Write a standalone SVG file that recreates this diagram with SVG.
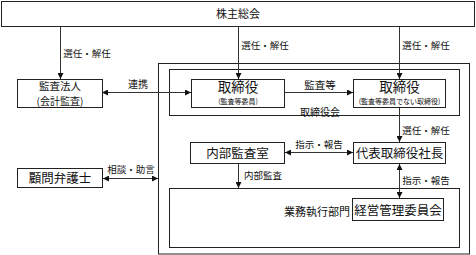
<svg xmlns="http://www.w3.org/2000/svg" width="476" height="255" viewBox="0 0 476 255">
<defs>
<marker id="ah" viewBox="0 0 6 6" refX="6" refY="3" markerWidth="6" markerHeight="6" markerUnits="userSpaceOnUse" orient="auto-start-reverse">
<path d="M0,0 L6,3 L0,6 Z" fill="#111"/>
</marker>
</defs>
<style>
text{font-family:"Noto Sans CJK JP","Noto Sans CJK SC",sans-serif;fill:#111;text-anchor:middle}
.box{fill:#fff;stroke:#222;stroke-width:1}
.frame{fill:none;stroke:#222;stroke-width:1}
.c{fill:none;stroke:#333;stroke-width:1}
.lbl{font-size:9.5px}
</style>
<rect width="476" height="255" fill="#fff"/>
<g id="frames">
<rect class="frame" x="158.5" y="63.5" width="311" height="190.5"/>
<rect class="frame" x="169.5" y="69.5" width="290" height="46"/>
<rect class="frame" x="169.5" y="188.5" width="290" height="59"/>
</g>
<g id="connectors">
<line class="c" x1="60.5" y1="26" x2="60.5" y2="79" marker-end="url(#ah)"/>
<line class="c" x1="238.5" y1="26" x2="238.5" y2="79" marker-end="url(#ah)"/>
<line class="c" x1="399.5" y1="26" x2="399.5" y2="79" marker-end="url(#ah)"/>
<line class="c" x1="102" y1="92.5" x2="191" y2="92.5" marker-start="url(#ah)" marker-end="url(#ah)"/>
<line class="c" x1="285" y1="92.5" x2="353" y2="92.5" marker-end="url(#ah)"/>
<line class="c" x1="399.5" y1="108" x2="399.5" y2="142" marker-end="url(#ah)"/>
<line class="c" x1="285" y1="152.5" x2="353" y2="152.5" marker-start="url(#ah)" marker-end="url(#ah)"/>
<line class="c" x1="103" y1="178.5" x2="158" y2="178.5" marker-start="url(#ah)" marker-end="url(#ah)"/>
<line class="c" x1="238.5" y1="163" x2="238.5" y2="188" marker-end="url(#ah)"/>
<line class="c" x1="399.5" y1="164" x2="399.5" y2="198" marker-start="url(#ah)" marker-end="url(#ah)"/>
<text class="lbl" x="87" y="57">選任・解任</text>
<text class="lbl" x="265" y="49">選任・解任</text>
<text class="lbl" x="426" y="49">選任・解任</text>
<text class="lbl" x="138" y="88" style="font-size:10px">連携</text>
<text class="lbl" x="320" y="89" style="font-size:10.5px">監査等</text>
<text class="lbl" x="320" y="116" style="font-size:10px">取締役会</text>
<text class="lbl" x="426" y="134">選任・解任</text>
<text class="lbl" x="319" y="148">指示・報告</text>
<text class="lbl" x="131" y="173">相談・助言</text>
<text class="lbl" x="263" y="179">内部監査</text>
<text class="lbl" x="426" y="184">指示・報告</text>
<text x="350" y="216" style="font-size:11px;text-anchor:end">業務執行部門</text>
</g>
<g id="shareholders">
<rect class="box" x="1.5" y="1.5" width="473" height="25"/>
<text x="238" y="18" style="font-size:11px">株主総会</text>
</g>
<g id="auditor">
<rect class="box" x="17.5" y="79.5" width="85" height="28"/>
<text x="60" y="89.5" style="font-size:10.5px">監査法人</text>
<text x="60" y="104.5" style="font-size:10px">(会計監査)</text>
</g>
<g id="director-audit">
<rect class="box" x="191.5" y="79.5" width="93" height="28"/>
<text x="238" y="92" style="font-size:13.5px">取締役</text>
<text x="238" y="104" style="font-size:7px">(監査等委員)</text>
</g>
<g id="director">
<rect class="box" x="353.5" y="79.5" width="92" height="28"/>
<text x="399.5" y="92" style="font-size:13.5px">取締役</text>
<text x="399.5" y="104" style="font-size:7px">(監査等委員でない取締役)</text>
</g>
<g id="internal-audit">
<rect class="box" x="190.5" y="142.5" width="94" height="21"/>
<text x="237.5" y="157.5" style="font-size:12.5px">内部監査室</text>
</g>
<g id="president">
<rect class="box" x="353.5" y="142.5" width="92" height="21"/>
<text x="399.5" y="158" style="font-size:12.5px">代表取締役社長</text>
</g>
<g id="lawyer">
<rect class="box" x="17.5" y="168.5" width="85" height="19"/>
<text x="60" y="182.5" style="font-size:12.5px">顧問弁護士</text>
</g>
<g id="management">
<rect class="box" x="352.5" y="198.5" width="91" height="22"/>
<text x="398" y="214.5" style="font-size:12.5px">経営管理委員会</text>
</g>
</svg>
